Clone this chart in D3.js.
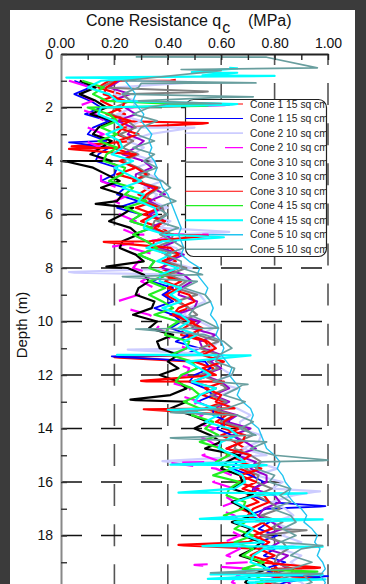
<!DOCTYPE html>
<html>
<head>
<meta charset="utf-8">
<script src="https://cdn.jsdelivr.net/npm/d3@7"></script>
<style>
  html, body { margin: 0; padding: 0; background: #3b3b3b; }
  svg { display: block; }
  text { font-family: "Liberation Sans", Arial, Helvetica, sans-serif; }
</style>
</head>
<body>
<svg id="chart" width="366" height="584"></svg>
<script>
// ---- sampling depths (m) shared by the sounding records ----
const depthGrid = [1.00,1.25,1.50,1.75,2.00,2.25,2.50,2.75,3.00,3.25,
  3.50,3.75,4.00,4.25,4.50,4.75,5.00,5.25,5.50,5.75,
  6.00,6.25,6.50,6.75,7.00,7.25,7.50,7.75,8.00,8.25,
  8.50,8.75,9.00,9.25,9.50,9.75,10.00,10.25,10.50,10.75,
  11.00,11.25,11.50,11.75,12.00,12.25,12.50,12.75,13.00,13.25,
  13.50,13.75,14.00,14.25,14.50,14.75,15.00,15.25,15.50,15.75,
  16.00,16.25,16.50,16.75,17.00,17.25,17.50,17.75,18.00,18.25,
  18.50,18.75,19.00,19.25,19.50,19.75,20.00];

// ---- cone resistance qc (MPa) at each sampling depth ----
const qcCone1A = [.18,.14,.22,.15,.20,.24,.17,.23,.21,.27,
  .19,.27,.23,.28,.21,.30,.33,.29,.35,.28,
  .35,.30,.38,.41,.35,.34,.40,.43,.37,.43,
  .39,.45,.39,.44,.48,.41,.50,.46,.45,.54,
  .56,.51,.50,.57,.56,.49,.58,.53,.61,.54,
  .62,.58,.67,.60,.65,.69,.62,.69,.67,.73,
  .66,.74,.70,.74,.67,.74,.76,.71,.76,.70,
  .76,.71,.79,.81,.75,.73,.79];
const qcCone1B = [.05,.11,.05,.11,.15,.09,.18,.12,.10,.17,
  .18,.14,.13,.21,.20,.15,.24,.21,.29,.21,
  .30,.26,.34,.27,.32,.36,.29,.35,.33,.40,
  .34,.42,.38,.42,.35,.42,.45,.41,.48,.43,
  .52,.46,.54,.56,.50,.48,.54,.57,.51,.57,
  .57,.63,.58,.64,.68,.62,.71,.66,.64,.71,
  .76,.72,.71,.78,.77,.70,.78,.74,.81,.74,
  .80,.76,.84,.76,.81,.84,.77];
const qcCone2A = [.25,.21,.20,.28,.27,.21,.30,.25,.33,.25,
  .31,.27,.35,.28,.33,.38,.31,.36,.34,.40,
  .33,.41,.37,.42,.35,.43,.46,.40,.49,.43,
  .49,.44,.52,.54,.48,.46,.52,.57,.52,.59,
  .56,.61,.55,.60,.64,.57,.66,.60,.58,.66,
  .71,.67,.67,.75,.74,.68,.77,.73,.81,.73,
  .83,.79,.87,.79,.84,.87,.79,.86,.83,.90,
  .82,.90,.86,.90,.83,.90,.93];
const qcCone2B = [.03,.11,.07,.12,.05,.13,.16,.10,.16,.09,
  .15,.10,.18,.21,.15,.15,.21,.26,.20,.25,
  .22,.28,.22,.28,.32,.26,.35,.29,.27,.35,
  .30,.35,.29,.21,.24,.33,.38,.36,.41,.40,
  .47,.42,.41,.48,.47,.40,.49,.44,.52,.45,
  .53,.49,.58,.51,.56,.60,.53,.60,.58,.64,
  .57,.65,.61,.65,.58,.65,.67,.62,.67,.61,
  .67,.62,.70,.72,.66,.64,.70];
const qcCone3A = [.20,.15,.23,.26,.20,.19,.25,.28,.22,.27,
  .23,.29,.23,.29,.33,.28,.37,.33,.31,.38,
  .39,.35,.34,.42,.41,.35,.44,.39,.47,.40,
  .47,.43,.51,.43,.48,.51,.44,.52,.51,.59,
  .52,.59,.55,.59,.52,.59,.62,.56,.62,.56,
  .65,.60,.69,.72,.66,.65,.71,.75,.69,.74,
  .73,.79,.73,.78,.82,.75,.83,.78,.75,.83,
  .85,.81,.80,.87,.86,.79,.88];
const qcCone3B = [.07,.13,.07,.13,.17,.11,.20,.14,.12,.19,
  .15,.11,.19,.12,.17,.22,.15,.23,.21,.27,
  .23,.18,.26,.29,.23,.22,.28,.31,.25,.31,
  .33,.29,.28,.35,.34,.27,.36,.33,.42,.36,
  .37,.44,.40,.44,.37,.44,.47,.41,.47,.41,
  .49,.55,.50,.56,.60,.54,.67,.62,.60,.67,
  .68,.64,.72,.64,.69,.72,.64,.71,.68,.75,
  .72,.67,.75,.77,.71,.69,.75];
const qcCone3C = [.21,.17,.16,.24,.23,.17,.26,.21,.29,.21,
  .22,.28,.22,.28,.32,.27,.36,.32,.30,.37,
  .31,.39,.35,.40,.33,.41,.44,.38,.44,.38,
  .45,.40,.48,.50,.44,.42,.48,.53,.48,.55,
  .58,.53,.61,.53,.58,.61,.54,.60,.58,.65,
  .65,.61,.61,.69,.68,.62,.71,.67,.75,.67,
  .73,.68,.76,.78,.72,.70,.75,.79,.72,.78,
  .74,.80,.74,.79,.83,.76,.85];
const qcCone4A = [.08,.16,.12,.17,.10,.18,.21,.15,.21,.14,
  .21,.17,.16,.24,.23,.18,.27,.24,.32,.24,
  .30,.26,.34,.27,.32,.36,.29,.35,.33,.40,
  .33,.39,.33,.38,.42,.35,.44,.40,.39,.48,
  .47,.41,.49,.51,.45,.43,.49,.52,.46,.52,
  .49,.57,.54,.59,.52,.60,.63,.58,.64,.57,
  .67,.63,.62,.69,.68,.61,.69,.65,.72,.65,
  .72,.68,.76,.68,.73,.76,.69];
const qcCone4B = [.15,.10,.18,.21,.15,.14,.20,.23,.17,.22,
  .23,.19,.27,.20,.25,.30,.23,.31,.29,.35,
  .36,.32,.31,.39,.38,.32,.41,.36,.44,.37,
  .37,.45,.41,.45,.38,.45,.48,.44,.51,.46,
  .48,.53,.47,.52,.56,.49,.58,.52,.50,.58,
  .59,.54,.63,.66,.60,.59,.65,.69,.63,.68,
  .69,.65,.73,.65,.70,.73,.65,.72,.69,.76,
  .76,.72,.71,.78,.77,.70,.79];
const qcCone5A = [.24,.26,.28,.27,.29,.31,.30,.32,.34,.33,
  .34,.33,.35,.36,.35,.37,.38,.40,.41,.42,
  .43,.44,.45,.44,.45,.46,.45,.48,.52,.51,
  .53,.55,.54,.56,.57,.56,.58,.59,.58,.60,
  .61,.60,.62,.64,.63,.65,.67,.66,.68,.71,
  .72,.71,.74,.75,.76,.77,.80,.82,.81,.83,
  .84,.86,.85,.87,.90,.92,.91,.94,.96,.95,
  .97,.96,.98,.99,.97,.99,.98];
const qcCone5B = [.23,.29,.23,.29,.33,.27,.36,.30,.28,.35,
  .27,.35,.31,.36,.29,.38,.41,.37,.43,.36,
  .40,.36,.44,.37,.42,.46,.39,.45,.45,.53,
  .51,.46,.54,.56,.50,.48,.54,.59,.54,.61,
  .64,.59,.58,.65,.64,.57,.66,.61,.69,.62,
  .66,.72,.67,.73,.77,.71,.80,.75,.73,.80,
  .78,.86,.82,.86,.79,.86,.88,.83,.88,.82,
  .90,.86,.94,.86,.91,.94,.87];
// record plotted without a legend entry
const qcUnlabelled = [.22,.18,.26,.19,.24,.28,.21,.27,.25,.31,
  .28,.23,.31,.34,.28,.28,.34,.39,.33,.38,
  .33,.39,.33,.39,.43,.37,.46,.40,.38,.46,
  .49,.45,.44,.51,.50,.43,.52,.49,.58,.52,
  .53,.60,.56,.60,.53,.60,.63,.57,.63,.57,
  .66,.62,.71,.64,.69,.73,.66,.73,.71,.77,
  .77,.72,.80,.82,.76,.74,.79,.83,.76,.82,
  .77,.85,.81,.85,.78,.85,.88];

// ---- extra readings [depth m, qc MPa]: near-surface values and sharp peaks ----
const extraCone1A = [[0.97,.43],[0.99,.41],[2.58,.55],[2.60,.53],[3.45,.04],[3.47,.06],
  [11.33,.20],[11.35,.22],[18.35,.44],[18.37,.46],[19.57,.97],[19.59,.95]];
const extraCone1B = [[3.30,.03],[3.32,.05],[11.30,.19],[11.32,.21],[16.90,.99],[16.92,.97],
  [19.52,1.00],[19.54,.98]];
const extraCone2A = [[1.05,.50],[1.07,.48],[2.75,.50],[2.77,.48],[6.65,.63],[6.67,.61],
  [8.15,.03],[8.17,.05],[11.05,.25],[11.07,.27],[15.22,.38],[15.24,.40],[16.35,.97],[16.37,.95]];
const extraCone2B = [[6.75,.55],[6.77,.53],[7.20,.19],[7.22,.21],[15.28,.40],[15.30,.42],
  [19.10,.50],[19.12,.52]];
const extraCone3A = [[1.40,.55],[1.42,.53],[17.80,.92],[17.82,.90]];
const extraCone3B = [[4.00,.00],[4.02,.02],[5.60,.13],[5.62,.15],[7.95,.17],[7.97,.19],
  [12.92,.26],[12.94,.28]];
const extraCone3C = [[3.55,.03],[3.57,.05],[6.80,.55],[6.82,.53],[7.02,.16],[7.04,.18],
  [12.22,.30],[12.24,.32],[13.28,.31],[13.30,.33],[19.20,.97],[19.22,.95]];
const extraCone4A = [[1.92,.55],[1.94,.53],[19.35,.96],[19.37,.94]];
const extraCone4B = [[0.52,.63],[0.54,.66],[0.68,.49],[0.70,.66],[0.80,.53],[0.82,.80],
  [0.88,.02],[0.90,.30],[1.87,.66],[1.89,.64],[6.85,.61],[6.87,.59],[11.25,.21],[11.27,.71],
  [13.30,.40],[13.32,.42],[15.35,.41],[15.37,.77],[16.40,.44],[16.42,.92],[17.38,.52],[17.40,.98],
  [18.40,.53],[18.42,.98],[19.45,.56],[19.47,.98],[19.62,.55],[19.64,.99]];
const extraCone5A = [];
const extraCone5B = [[0.11,.28],[0.12,.77],[0.52,.96],[0.58,.45],[0.62,.60],[1.08,.73],[1.10,.30],
  [1.60,.72],[1.62,.60],[1.85,.60],[1.87,.40],[8.32,.23],[8.34,.25],[10.28,.28],[10.30,.30],
  [12.35,.70],[12.37,.68],[13.40,.41],[13.42,.43],[14.35,.41],[14.37,.43],[15.18,1.00],[15.20,.98],
  [18.38,.98],[18.40,.96],[19.40,.56],[19.42,.98]];
const extraUnlabelled = [[1.90,.63],[1.92,.61]];

// ---- labels and ticks ----
const legendLabels = ["Cone 1 15 sq cm","Cone 1 15 sq cm","Cone 2 10 sq cm","Cone 2 10 sq cm",
  "Cone 3 10 sq cm","Cone 3 10 sq cm","Cone 3 10 sq cm","Cone 4 15 sq cm","Cone 4 15 sq cm",
  "Cone 5 10 sq cm","Cone 5 10 sq cm"];
const qcLabelTicks = [0, 0.2, 0.4, 0.6, 0.8, 1.0];
const qcMinorTicks = [0, 0.1, 0.2, 0.3, 0.4, 0.5, 0.6, 0.7, 0.8, 0.9, 1.0];
const depthLabelTicks = [0, 2, 4, 6, 8, 10, 12, 14, 16, 18, 20];
const depthMinorTicks = [0,1,2,3,4,5,6,7,8,9,10,11,12,13,14,15,16,17,18,19,20];

// ---- line styles, one per legend entry (plot width, legend-sample width) ----
const styles = [
  { color: "#ff0000", width: 2.2, key: 1.1 },
  { color: "#0000ff", width: 1.8, key: 1.1 },
  { color: "#ccccff", width: 2.2, key: 1.8 },
  { color: "#ff00ff", width: 2.2, key: 1.3, dash: "22,18" },
  { color: "#808080", width: 2,   key: 1.8 },
  { color: "#000000", width: 2.2, key: 1.1 },
  { color: "#ff0000", width: 2.2, key: 1.1 },
  { color: "#22ee22", width: 2.2, key: 1.3 },
  { color: "#00ffff", width: 2.2, key: 1.8 },
  { color: "#22c4f0", width: 1.4, key: 1.3 },
  { color: "#689e9e", width: 1.7, key: 1.4 }
];
const unlabelledStyle = { color: "#9900cc", width: 2 };

const records = [
  { values: qcCone1A, extra: extraCone1A, style: styles[0] },
  { values: qcCone1B, extra: extraCone1B, style: styles[1] },
  { values: qcCone2A, extra: extraCone2A, style: styles[2] },
  { values: qcUnlabelled, extra: extraUnlabelled, style: unlabelledStyle },
  { values: qcCone2B, extra: extraCone2B, style: styles[3] },
  { values: qcCone3A, extra: extraCone3A, style: styles[4] },
  { values: qcCone3B, extra: extraCone3B, style: styles[5] },
  { values: qcCone3C, extra: extraCone3C, style: styles[6] },
  { values: qcCone4A, extra: extraCone4A, style: styles[7] },
  { values: qcCone4B, extra: extraCone4B, style: styles[8] },
  { values: qcCone5A, extra: extraCone5A, style: styles[9] },
  { values: qcCone5B, extra: extraCone5B, style: styles[10] }
];

// ---- chart ----
const W = 366, H = 584;
const svg = d3.select("#chart");
svg.append("rect").attr("width", W).attr("height", H).attr("fill", "#3b3b3b");
svg.append("rect").attr("x", 10).attr("y", 10).attr("width", 345).attr("height", H - 10).attr("fill", "#ffffff");

const x = d3.scaleLinear().domain([0, 1]).range([61, 328]);
const y = d3.scaleLinear().domain([0, 20]).range([54, 589]);

const defs = svg.append("defs");
defs.append("clipPath").attr("id", "plotClip").append("rect")
  .attr("x", x(0) - 1).attr("y", y(0)).attr("width", x(1) - x(0) + 5).attr("height", H - y(0));

// dashed grid
const grid = svg.append("g");
grid.selectAll("line.vgrid").data(qcLabelTicks.slice(1)).join("line").attr("class", "vgrid")
  .attr("x1", d => x(d)).attr("x2", d => x(d)).attr("y1", y(0)).attr("y2", y(20))
  .attr("stroke", "#555").attr("stroke-width", 1.6)
  .attr("stroke-dasharray", "22,18.1").attr("stroke-dashoffset", 11);
grid.selectAll("line.hgrid").data(depthLabelTicks.slice(1)).join("line").attr("class", "hgrid")
  .attr("x1", x(0)).attr("x2", x(1)).attr("y1", d => y(d)).attr("y2", d => y(d))
  .attr("stroke", "#111").attr("stroke-width", 1.5).attr("stroke-dasharray", "21,19");

// legend box
const lg = svg.append("g");
const box = { x: 185.5, y: 99.5, w: 141, h: 157 };
defs.append("clipPath").attr("id", "legendClip").append("rect")
  .attr("x", box.x).attr("y", box.y).attr("width", box.w).attr("height", box.h).attr("rx", 8);
lg.append("rect").attr("x", box.x).attr("y", box.y).attr("width", box.w).attr("height", box.h)
  .attr("rx", 8).attr("fill", "#fff").attr("stroke", "#222").attr("stroke-width", 1.2);
const rows = lg.append("g").attr("clip-path", "url(#legendClip)");
legendLabels.forEach((lab, i) => {
  const ry = 104 + i * 14.53;
  const st = styles[i];
  rows.append("line").attr("x1", 185).attr("x2", 243).attr("y1", ry).attr("y2", ry)
    .attr("stroke", st.color).attr("stroke-width", st.key)
    .attr("stroke-dasharray", st.dash || null);
  rows.append("text").attr("x", 250).attr("y", ry).attr("dy", "0.35em")
    .attr("font-size", 10.3).attr("fill", "#222").text(lab);
});

// soundings
const line = d3.line().x(p => x(p[1])).y(p => y(p[0]));
const dataG = svg.append("g").attr("clip-path", "url(#plotClip)");
records.forEach(r => {
  const pts = depthGrid.map((d, i) => [d, r.values[i]]).concat(r.extra)
    .sort((a, b) => a[0] - b[0]);
  dataG.append("path").attr("d", line(pts)).attr("fill", "none")
    .attr("stroke", r.style.color).attr("stroke-width", r.style.width)
    .attr("stroke-linejoin", "round")
    .attr("stroke-dasharray", r.style.dash || null);
});

// top axis: ticks pointing into the plot, labels above
const topTicks = svg.append("g").attr("transform", `translate(0,${y(0)})`)
  .call(d3.axisBottom(x).tickValues(qcMinorTicks).tickSize(6).tickSizeOuter(0).tickFormat(""));
topTicks.select(".domain").attr("stroke", "#222").attr("stroke-width", 2);
topTicks.selectAll(".tick line").attr("stroke", "#222").attr("stroke-width", 1.4);
const topLabels = svg.append("g").attr("transform", `translate(0,${y(0)})`)
  .call(d3.axisTop(x).tickValues(qcLabelTicks).tickSize(0).tickPadding(6).tickFormat(d3.format(".2f")));
topLabels.select(".domain").remove();
topLabels.selectAll("text").attr("font-size", 14).attr("fill", "#111")
  .attr("font-family", "Liberation Sans, Arial, sans-serif");

// left axis: ticks pointing into the plot, labels to the left
const leftTicks = svg.append("g").attr("transform", `translate(${x(0)},0)`)
  .call(d3.axisRight(y).tickValues(depthMinorTicks).tickSize(6).tickSizeOuter(0).tickFormat(""));
leftTicks.select(".domain").attr("stroke", "#888").attr("stroke-width", 2);
leftTicks.selectAll(".tick line").attr("stroke", "#333").attr("stroke-width", 1.4);
const leftLabels = svg.append("g").attr("transform", `translate(${x(0)},0)`)
  .call(d3.axisLeft(y).tickValues(depthLabelTicks).tickSize(0).tickPadding(8).tickFormat(d3.format("d")));
leftLabels.select(".domain").remove();
leftLabels.selectAll("text").attr("font-size", 14).attr("fill", "#111")
  .attr("font-family", "Liberation Sans, Arial, sans-serif");

// titles
const title = svg.append("text").attr("x", 86).attr("y", 25.5).attr("font-size", 16).attr("fill", "#111");
title.append("tspan").text("Cone Resistance q");
title.append("tspan").attr("dx", 1).attr("dy", 7).text("c");
title.append("tspan").attr("x", 248).attr("y", 25.5).text("(MPa)");

svg.append("text").attr("transform", "translate(22,325) rotate(-90)")
  .attr("text-anchor", "middle").attr("dy", "0.35em")
  .attr("font-size", 15).attr("fill", "#111").text("Depth (m)");
</script>
</body>
</html>
